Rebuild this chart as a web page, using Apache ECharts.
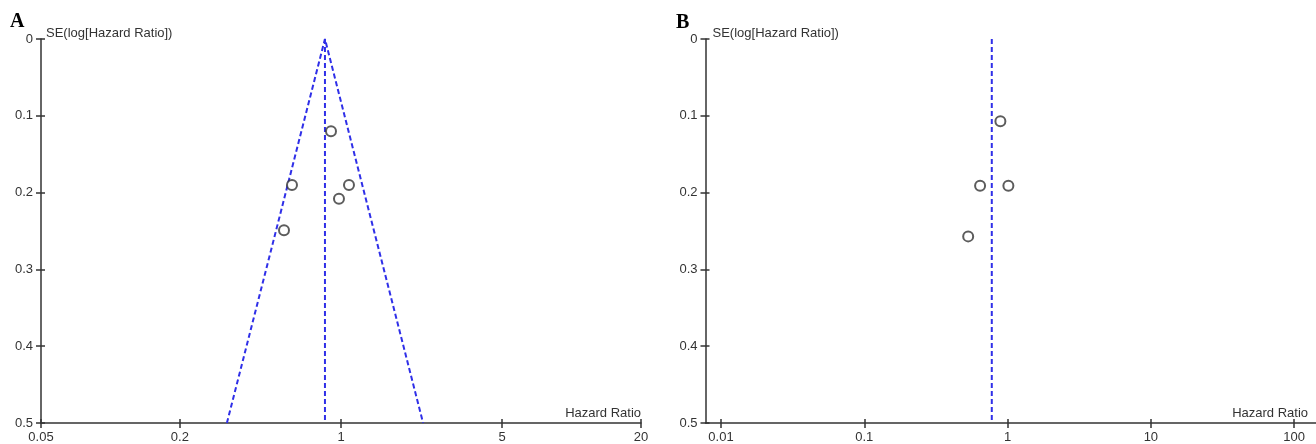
<!DOCTYPE html>
<html>
<head>
<meta charset="utf-8">
<script src="https://cdn.jsdelivr.net/npm/echarts@6/dist/echarts.min.js"></script>
<style>
  html, body { margin: 0; padding: 0; background: #fff; }
  #main { width: 1316px; height: 444px; }
</style>
</head>
<body>
<div id="main"></div>
<script>
// 刻度
const ticksA = [0.05, 0.2, 1, 5, 20]
const ticksB = [0.01, 0.1, 1, 10, 100]

// A 图数据
const hrA = [0.905, 0.613, 1.083, 0.98, 0.566]
const seA = [0.12, 0.19, 0.19, 0.208, 0.249]
const pooledA = 0.852
const funnelLowA = 0.32   // SE=0.5 处左边界
const funnelHighA = 2.27  // SE=0.5 处右边界

// B 图数据
const hrB = [0.891, 0.643, 1.013, 0.531]
const seB = [0.107, 0.191, 0.191, 0.257]
const pooledB = 0.776

const axisColor = '#333'
const dashBlue = '#2f2fe8'
const font = 'Liberation Sans, Arial, sans-serif'
const plotH = 384

function pairs(xs, ys) {
  return xs.map(function (x, i) { return [x, ys[i]] })
}

// 主坐标轴（刻度朝外）
function xAxisOf(gridIndex, min, max, ticks, rightPad) {
  return {
    type: 'log',
    logBase: 10,
    gridIndex: gridIndex,
    min: min,
    max: max,
    position: 'bottom',
    name: 'Hazard Ratio',
    nameLocation: 'end',
    nameGap: 0,
    nameTextStyle: {
      color: axisColor, fontFamily: font, fontSize: 13,
      align: 'right', verticalAlign: 'bottom', padding: [0, rightPad, 3, 0]
    },
    axisLine: { show: true, onZero: false, lineStyle: { color: axisColor, width: 1.5 } },
    axisTick: { show: true, length: 5, customValues: ticks, lineStyle: { color: axisColor, width: 1.5 } },
    axisLabel: {
      show: true, customValues: ticks, color: axisColor, fontFamily: font, fontSize: 13, margin: 8,
      formatter: function (v) { return String(+v.toPrecision(6)) }
    },
    minorTick: { show: false },
    splitLine: { show: false }
  }
}

function yAxisOf(gridIndex, leftPad) {
  return {
    type: 'value',
    gridIndex: gridIndex,
    inverse: true,
    min: 0,
    max: 0.5,
    interval: 0.1,
    name: 'SE(log[Hazard Ratio])',
    nameLocation: 'start',
    nameGap: 6,
    nameTextStyle: {
      color: axisColor, fontFamily: font, fontSize: 13,
      align: 'left', verticalAlign: 'middle', padding: [0, 0, 0, leftPad]
    },
    axisLine: { show: true, onZero: false, lineStyle: { color: axisColor, width: 1.5 } },
    axisTick: { show: true, length: 5, lineStyle: { color: axisColor, width: 1.5 } },
    axisLabel: { color: axisColor, fontFamily: font, fontSize: 13, margin: 8 },
    splitLine: { show: false }
  }
}

// 辅助坐标轴：放到对面再用负 offset 移回轴线上，刻度朝图内，让刻度穿过轴线
function innerX(gridIndex, min, max, ticks) {
  return {
    type: 'log', logBase: 10, gridIndex: gridIndex, min: min, max: max,
    position: 'top', offset: -plotH,
    axisLine: { show: false },
    axisTick: { show: true, length: 4, customValues: ticks, lineStyle: { color: axisColor, width: 1.5 } },
    axisLabel: { show: false },
    splitLine: { show: false }
  }
}

function innerY(gridIndex, width) {
  return {
    type: 'value', gridIndex: gridIndex, inverse: true, min: 0, max: 0.5, interval: 0.1,
    position: 'right', offset: -width,
    axisLine: { show: false },
    axisTick: { show: true, length: 4, lineStyle: { color: axisColor, width: 1.5 } },
    axisLabel: { show: false },
    splitLine: { show: false }
  }
}

function dashed(xi, data) {
  return {
    type: 'line',
    xAxisIndex: xi,
    yAxisIndex: xi,
    data: data,
    symbol: 'none',
    silent: true,
    lineStyle: { color: dashBlue, width: 2, type: [5, 3] },
    z: 1
  }
}

function points(xi, data) {
  return {
    type: 'scatter',
    xAxisIndex: xi,
    yAxisIndex: xi,
    data: data,
    symbol: 'circle',
    symbolSize: 10,
    itemStyle: { color: '#fff', borderColor: '#333', borderWidth: 2 },
    z: 3
  }
}

var chart = echarts.init(document.getElementById('main'), null, { renderer: 'canvas' })

var letterStyle = { fontFamily: 'Liberation Serif, Times New Roman, serif', fontWeight: 'bold', fontSize: 20, color: '#000' }

chart.setOption({
  animation: false,
  backgroundColor: '#fff',
  title: [
    { text: 'A', left: 10, top: 12, padding: 0, textStyle: letterStyle },
    { text: 'B', left: 676, top: 13, padding: 0, textStyle: letterStyle }
  ],
  grid: [
    { left: 41, top: 39, width: 600, height: plotH },
    { left: 705.5, top: 39, width: 610.5, height: plotH }
  ],
  xAxis: [
    xAxisOf(0, 0.05, 20, ticksA, 0),
    xAxisOf(1, 0.0078, 142, ticksB, 8),
    innerX(0, 0.05, 20, ticksA),
    innerX(1, 0.0078, 142, ticksB)
  ],
  yAxis: [yAxisOf(0, 5), yAxisOf(1, 7), innerY(0, 600), innerY(1, 610.5)],
  series: [
    dashed(0, [[funnelLowA, 0.5], [pooledA, 0], [funnelHighA, 0.5]]),
    dashed(0, [[pooledA, 0], [pooledA, 0.5]]),
    points(0, pairs(hrA, seA)),
    dashed(1, [[pooledB, 0], [pooledB, 0.5]]),
    points(1, pairs(hrB, seB))
  ]
})
</script>
</body>
</html>
